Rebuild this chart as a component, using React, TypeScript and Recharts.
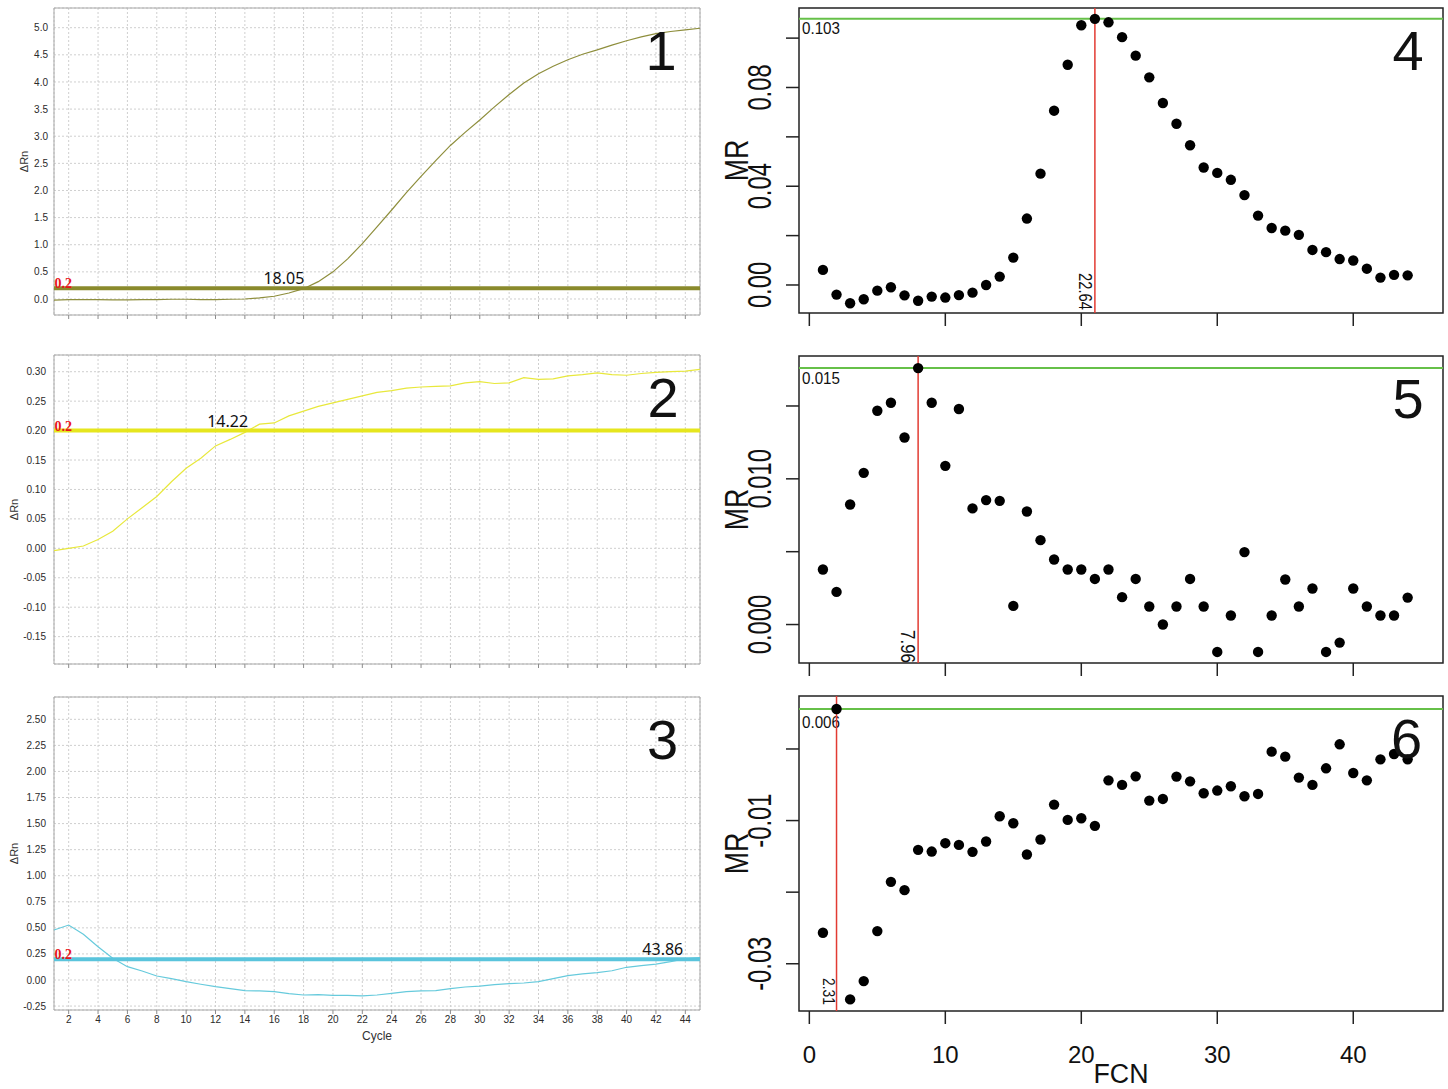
import React from "react";
import {
  LineChart, Line, ScatterChart, Scatter, XAxis, YAxis, CartesianGrid,
  ReferenceLine, ReferenceArea, ReferenceDot,
} from "recharts";

const SANS = "'Liberation Sans', Arial, Helvetica, sans-serif";
const SERIF = "'Liberation Serif', 'Times New Roman', serif";
const NOTO = "'Noto Sans', 'Open Sans', sans-serif";

// amplification plots (left column)
const CYCLES = [
  1, 2, 3, 4, 5, 6, 7, 8, 9, 10, 11, 12, 13, 14, 15, 16, 17, 18, 19, 20, 21, 22, 23,
  24, 25, 26, 27, 28, 29, 30, 31, 32, 33, 34, 35, 36, 37, 38, 39, 40, 41, 42, 43, 44, 45,
];
const DRN_1 = [
  -0.02, -0.01, -0.01, -0.01, -0.015, -0.015, -0.01, -0.01, -0.005, -0.005, -0.01, -0.01,
  -0.005, 0.0, 0.02, 0.05, 0.11, 0.19, 0.32, 0.5, 0.74, 1.02, 1.33, 1.64, 1.96, 2.26, 2.55,
  2.83, 3.07, 3.3, 3.54, 3.77, 3.98, 4.15, 4.29, 4.41, 4.51, 4.59, 4.68, 4.76, 4.83, 4.89,
  4.93, 4.96, 4.99,
];
const DRN_2 = [
  -0.004, 0.0, 0.004, 0.015, 0.029, 0.05, 0.069, 0.088, 0.113, 0.136, 0.153, 0.174, 0.185,
  0.197, 0.211, 0.213, 0.225, 0.233, 0.241, 0.247, 0.253, 0.259, 0.265, 0.268, 0.272, 0.274,
  0.275, 0.276, 0.281, 0.283, 0.28, 0.281, 0.29, 0.287, 0.288, 0.293, 0.295, 0.298, 0.295,
  0.294, 0.297, 0.299, 0.3, 0.301, 0.304,
];
const DRN_3 = [
  0.479, 0.527, 0.438, 0.319, 0.208, 0.128, 0.086, 0.038, 0.013, -0.016, -0.041, -0.064,
  -0.083, -0.102, -0.105, -0.112, -0.131, -0.144, -0.141, -0.147, -0.148, -0.153, -0.144,
  -0.128, -0.112, -0.105, -0.102, -0.083, -0.067, -0.058, -0.045, -0.035, -0.029, -0.016,
  0.013, 0.042, 0.058, 0.07, 0.089, 0.122, 0.137, 0.153, 0.176, 0.204, 0.214,
];
const CYCLE_TICKS = [2, 4, 6, 8, 10, 12, 14, 16, 18, 20, 22, 24, 26, 28, 30, 32, 34, 36, 38, 40, 42, 44];
const DRN_TICKS_1 = [0, 0.5, 1, 1.5, 2, 2.5, 3, 3.5, 4, 4.5, 5];
const DRN_TICKS_2 = [-0.15, -0.1, -0.05, 0, 0.05, 0.1, 0.15, 0.2, 0.25, 0.3];
const DRN_TICKS_3 = [-0.25, 0, 0.25, 0.5, 0.75, 1, 1.25, 1.5, 1.75, 2, 2.25, 2.5];
const THRESHOLD = 0.2;
const CT = [18.05, 14.22, 43.86];

// MR against FCN (right column)
const FCN = [
  1, 2, 3, 4, 5, 6, 7, 8, 9, 10, 11, 12, 13, 14, 15, 16, 17, 18, 19, 20, 21, 22,
  23, 24, 25, 26, 27, 28, 29, 30, 31, 32, 33, 34, 35, 36, 37, 38, 39, 40, 41, 42, 43, 44,
];
const MR_4 = [
  0.0061, -0.0039, -0.0074, -0.0058, -0.0023, -0.0009, -0.0042, -0.0064, -0.0047, -0.0051,
  -0.0041, -0.0031, 0.0, 0.0034, 0.0111, 0.0269, 0.0451, 0.0706, 0.0892, 0.1052, 0.1078,
  0.1064, 0.1004, 0.0929, 0.0841, 0.0737, 0.0653, 0.0566, 0.0476, 0.0454, 0.0426, 0.0364,
  0.0281, 0.0231, 0.022, 0.0203, 0.0142, 0.0133, 0.0105, 0.0099, 0.0066, 0.003, 0.0041, 0.0039,
];
const MR_5 = [
  0.00378, 0.00224, 0.00824, 0.01041, 0.01467, 0.01522, 0.01284, 0.0176, 0.01522, 0.01089,
  0.01479, 0.00797, 0.00854, 0.00849, 0.00128, 0.00776, 0.00579, 0.00446, 0.00378, 0.00378,
  0.00313, 0.00378, 0.00188, 0.00313, 0.00124, 0.0, 0.00124, 0.00313, 0.00124, -0.00188,
  0.00062, 0.00497, -0.00188, 0.00062, 0.00309, 0.00124, 0.00247, -0.00188, -0.00124,
  0.00247, 0.00124, 0.00062, 0.00062, 0.00185,
];
const MR_6 = [
  -0.02567, 0.00558, -0.03498, -0.03242, -0.02544, -0.01856, -0.01972, -0.01409, -0.01433,
  -0.01316, -0.0134, -0.01437, -0.01293, -0.0094, -0.01037, -0.01474, -0.01265, -0.00777,
  -0.00991, -0.00968, -0.01074, -0.00438, -0.00502, -0.00382, -0.00721, -0.00698, -0.00386,
  -0.00452, -0.00619, -0.00581, -0.00521, -0.00661, -0.00628, -0.00037, -0.00107, -0.004,
  -0.00502, -0.0027, 0.00065, -0.00335, -0.00438, -0.00145, -0.0007, -0.00145,
];
const FCN_TICKS = [0, 10, 20, 30, 40];
const MR_TICKS_4 = [0, 0.02, 0.04, 0.06, 0.08, 0.1];
const MR_LABELS_4 = [0, 0.04, 0.08];
const MR_TICKS_5 = [0, 0.005, 0.01, 0.015];
const MR_LABELS_5 = [0, 0.01];
const MR_TICKS_6 = [-0.03, -0.02, -0.01, 0];
const MR_LABELS_6 = [-0.03, -0.01];
const MR_MAX = [0.1078, 0.0176, 0.00558];
const MR_MAX_TEXT = ["0.103", "0.015", "0.006"];
const FCN_PEAK = [21, 8, 2];
const FCN_PEAK_TEXT = ["22.64", "7.96", "2.31"];

const FCN_DOMAIN: [number, number] = [-0.76, 46.6];

// label callbacks get the box either as viewBox or flat
const box = (lp: any) => lp?.viewBox ?? lp;

function AmpPanel(p: any) {
  const data = CYCLES.map((c, i) => ({ cycle: c, drn: p.values[i] }));
  return (
    <div style={{ position: "absolute", left: 0, top: p.top }}>
      <LineChart width={710} height={p.height} data={data}
        margin={{ top: p.marginTop, right: 10, bottom: 0, left: 0 }}>
        <CartesianGrid stroke="#cfcfcf" strokeDasharray="2 2" />
        <XAxis dataKey="cycle" type="number" domain={[1, 45]} ticks={CYCLE_TICKS} interval={0}
          height={p.xAxisHeight} axisLine={false} tickLine={{ stroke: "#8c8c8c" }} tickSize={4} tickMargin={2}
          tick={{ fontSize: 10, fill: "#2a2a2a", fontFamily: SANS }}
          tickFormatter={(v: number) => (p.showCycle ? String(v) : "")}
          label={p.showCycle ? (lp: any) => {
            const v = box(lp);
            return <text x={v.x + v.width / 2} y={v.y + 30} textAnchor="middle" fontSize={12} fill="#333" fontFamily={SANS}>Cycle</text>;
          } : undefined} />
        <YAxis type="number" domain={p.domain} ticks={p.ticks} interval={0} width={54}
          axisLine={false} tickLine={false} tickSize={0} tickMargin={p.tickMargin}
          tick={{ fontSize: 10, fill: "#2a2a2a", fontFamily: SANS }}
          tickFormatter={(v: number) => v.toFixed(p.digits)}
          label={(lp: any) => {
            const v = box(lp);
            const cy = v.y + v.height / 2;
            return <text transform={`translate(${p.labelX},${cy}) rotate(-90)`} textAnchor="middle" fontSize={11} fill="#333" fontFamily={SANS}>ΔRn</text>;
          }} />
        <ReferenceArea x1={1} x2={45} y1={p.domain[0]} y2={p.domain[1]} fill="none" fillOpacity={0}
          stroke="#a8a8a8" strokeWidth={1} ifOverflow="visible" />
        <Line dataKey="drn" type="linear" stroke={p.color} strokeWidth={1.2} dot={false} isAnimationActive={false} />
        <ReferenceLine y={THRESHOLD} stroke={p.threshColor} strokeWidth={4}
          label={(lp: any) => {
            const v = box(lp);
            return <text x={v.x + 0.5} y={v.y} fontSize={14} fontWeight="bold" fill="#e8141b" fontFamily={SERIF}>0.2</text>;
          }} />
        <ReferenceDot x={p.ct} y={THRESHOLD} r={0} fill="none" stroke="none"
          label={(lp: any) => {
            const v = box(lp);
            return <text x={v.x} y={v.y - 4} textAnchor="end" fontSize={16} fill="#111" fontFamily={NOTO}>{p.ct.toFixed(2)}</text>;
          }} />
      </LineChart>
    </div>
  );
}

function MrTick(props: any) {
  const { x, y, payload, labels, digits } = props;
  const v = payload?.value;
  if (!labels.some((l: number) => Math.abs(l - v) < 1e-9)) return <g />;
  return (
    <text transform={`translate(${x},${y}) rotate(-90) scale(0.72,1)`} textAnchor="middle"
      fontSize={33} fill="#111" fontFamily={SANS}>{v.toFixed(digits)}</text>
  );
}

function MrPanel(p: any) {
  const data = FCN.map((f, i) => ({ fcn: f, mr: p.values[i] }));
  return (
    <div style={{ position: "absolute", left: 700, top: p.top }}>
      <ScatterChart width={748} height={p.height}
        margin={{ top: p.marginTop, right: 5, bottom: 0, left: 0 }}>
        <XAxis dataKey="fcn" type="number" domain={FCN_DOMAIN} ticks={FCN_TICKS} interval={0}
          height={p.xAxisHeight} axisLine={false} tickLine={{ stroke: "#222", strokeWidth: 1.5 }}
          tickSize={13} tickMargin={22}
          tick={{ fontSize: 24, fill: "#111", fontFamily: SANS }}
          tickFormatter={(v: number) => (p.showFcn ? String(v) : "")}
          label={p.showFcn ? (lp: any) => {
            const v = box(lp);
            return <text x={v.x + v.width / 2} y={v.y + 72} textAnchor="middle" fontSize={27} fill="#111"
              fontFamily={SANS} textLength={55} lengthAdjust="spacingAndGlyphs">FCN</text>;
          } : undefined} />
        <YAxis dataKey="mr" type="number" domain={p.domain} ticks={p.ticks} interval={0} width={99}
          axisLine={false} tickLine={{ stroke: "#222", strokeWidth: 1.5 }} tickSize={13} tickMargin={15}
          tick={<MrTick labels={p.labels} digits={p.digits} />}
          label={(lp: any) => {
            const v = box(lp);
            const cy = v.y + v.height / 2;
            return <text transform={`translate(48,${cy}) rotate(-90) scale(0.8,1)`} textAnchor="middle"
              fontSize={33.5} fill="#111" fontFamily={SANS}>MR</text>;
          }} />
        <ReferenceArea x1={FCN_DOMAIN[0]} x2={FCN_DOMAIN[1]} y1={p.domain[0]} y2={p.domain[1]}
          fill="none" fillOpacity={0} stroke="#222" strokeWidth={1.5} ifOverflow="visible" />
        <Scatter data={data} isAnimationActive={false}
          shape={(sp: any) => <circle cx={sp.cx} cy={sp.cy} r={5.2} fill="#000" />} />
        <ReferenceLine y={p.max} stroke="#66c048" strokeWidth={2}
          label={(lp: any) => {
            const v = box(lp);
            return <text x={v.x + 3} y={v.y + p.maxDy} fontSize={17} fill="#111" fontFamily={SANS}
              textLength={38} lengthAdjust="spacingAndGlyphs">{p.maxText}</text>;
          }} />
        <ReferenceLine x={p.peak} stroke="#e23b32" strokeWidth={1.5}
          label={(lp: any) => {
            const v = box(lp);
            const bx = v.x - p.peakDx;
            const by = v.y + v.height - p.peakDb;
            return <text transform={`translate(${bx},${by}) rotate(90)`} textAnchor="end" fontSize={p.peakFont}
              fill="#111" fontFamily={SANS} textLength={p.peakLen} lengthAdjust="spacingAndGlyphs">{p.peakText}</text>;
          }} />
      </ScatterChart>
    </div>
  );
}

const NUMBERS = [
  { t: "1", x: 661, y: 70 }, { t: "2", x: 663, y: 417 }, { t: "3", x: 662.5, y: 759 },
  { t: "4", x: 1408, y: 70 }, { t: "5", x: 1408, y: 418 }, { t: "6", x: 1406.5, y: 758 },
];

export default function App() {
  return (
    <div style={{ position: "absolute", left: 0, top: 0, width: 1448, height: 1089, background: "#fff" }}>
      <AmpPanel top={0} height={335} marginTop={8} xAxisHeight={20} values={DRN_1} color="#8e8e3c"
        threshColor="#8a8a2c" domain={[-0.295, 5.363]} ticks={DRN_TICKS_1} digits={1} tickMargin={6}
        labelX={28} ct={CT[0]} showCycle={false} />
      <AmpPanel top={340} height={344} marginTop={15} xAxisHeight={20} values={DRN_2} color="#e8e83c"
        threshColor="#e6e61e" domain={[-0.1965, 0.3284]} ticks={DRN_TICKS_2} digits={2} tickMargin={8}
        labelX={18} ct={CT[1]} showCycle={false} />
      <AmpPanel top={680} height={370} marginTop={17} xAxisHeight={40} values={DRN_3} color="#66cadc"
        threshColor="#5ac4dc" domain={[-0.2877, 2.714]} ticks={DRN_TICKS_3} digits={2} tickMargin={8}
        labelX={18} ct={CT[2]} showCycle={true} />

      <MrPanel top={0} height={333} marginTop={8} xAxisHeight={20} values={MR_4}
        domain={[-0.01135, 0.1122]} ticks={MR_TICKS_4} labels={MR_LABELS_4} digits={2}
        max={MR_MAX[0]} maxText={MR_MAX_TEXT[0]} maxDy={15}
        peak={FCN_PEAK[0]} peakText={FCN_PEAK_TEXT[0]} peakDx={16} peakDb={3} peakFont={19} peakLen={37}
        showFcn={false} />
      <MrPanel top={340} height={343} marginTop={16} xAxisHeight={20} values={MR_5}
        domain={[-0.00264, 0.01843]} ticks={MR_TICKS_5} labels={MR_LABELS_5} digits={3}
        max={MR_MAX[1]} maxText={MR_MAX_TEXT[1]} maxDy={16}
        peak={FCN_PEAK[1]} peakText={FCN_PEAK_TEXT[1]} peakDx={17} peakDb={0} peakFont={20} peakLen={33}
        showFcn={false} />
      <MrPanel top={680} height={409} marginTop={16} xAxisHeight={78} values={MR_6}
        domain={[-0.0366, 0.0074]} ticks={MR_TICKS_6} labels={MR_LABELS_6} digits={2}
        max={MR_MAX[2]} maxText={MR_MAX_TEXT[2]} maxDy={19}
        peak={FCN_PEAK[2]} peakText={FCN_PEAK_TEXT[2]} peakDx={14} peakDb={6} peakFont={17} peakLen={27}
        showFcn={true} />

      <svg width={1448} height={1089} style={{ position: "absolute", left: 0, top: 0, pointerEvents: "none" }}>
        {NUMBERS.map((n) => (
          <text key={n.t} x={n.x} y={n.y} textAnchor="middle" fontSize={56} fill="#111" fontFamily={SANS}>{n.t}</text>
        ))}
      </svg>
    </div>
  );
}
